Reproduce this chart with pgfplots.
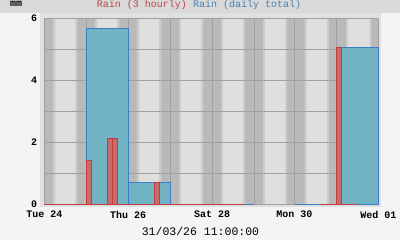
\documentclass[border=0pt]{standalone}
\usepackage{pgfplots}
\pgfplotsset{compat=1.18}
\usepackage{fontspec}
\setmainfont{Liberation Mono}
\definecolor{bgout}{HTML}{F4F4F4}
\definecolor{titleband}{HTML}{D9D9D9}
\definecolor{framebg}{HTML}{E0E0E0}
\definecolor{night}{HTML}{B9B9B9}
\definecolor{twi}{HTML}{CCCCCC}
\definecolor{day}{HTML}{DFDFDF}
\definecolor{gridgray}{HTML}{A0A0A0}
\definecolor{rfill}{HTML}{C96C6C}
\definecolor{rline}{HTML}{C33C3C}
\definecolor{bfill}{HTML}{72B2C5}
\definecolor{bline}{HTML}{3B7DC9}
\definecolor{tred}{HTML}{C04848}
\definecolor{tblue}{HTML}{4A82B4}
\pgfplotsset{
  band/.style={draw=none, fill=#1},
  gl/.style={draw=gridgray, line width=0.8bp},
}
\begin{document}
\begin{tikzpicture}
\fill[bgout] (0bp,0bp) rectangle (400bp,240bp);
\fill[titleband] (0bp,227.3bp) rectangle (400bp,240bp);
\fill[framebg] (40bp,32.7bp) rectangle (381bp,227.3bp);
\node[anchor=base west, inner sep=0pt, font=\fontsize{10bp}{12bp}\selectfont\bfseries] at (10bp,233bp) {mm};
\node[anchor=base, inner sep=0pt, font=\fontsize{10bp}{12bp}\selectfont] at (199bp,232bp) {\textcolor{tred}{Rain (3 hourly)} \textcolor{tblue}{Rain (daily total)}};
\node[anchor=base, inner sep=0pt, font=\fontsize{11.5bp}{13bp}\selectfont] at (200.5bp,5bp) {31/03/26 11:00:00};
\begin{axis}[
  scale only axis,
  clip=false,
  width=334bp, height=186bp,
  at={(44.3bp,35.7bp)}, anchor=south west,
  xmin=0, xmax=191, ymin=0, ymax=6,
  xtick={0,48,96,143,191},
  xticklabels={Tue 24,Thu 26,Sat 28,Mon 30,Wed 01},
  ytick={0,2,4,6},
  yticklabels={0,2,4,6},
  axis line style={draw=none},
  major tick length=0pt,
  tick style={draw=none},
  xticklabel style={anchor=north, inner sep=0pt, yshift=-6.7bp, font=\fontsize{10bp}{12bp}\selectfont\bfseries},
  yticklabel style={anchor=east, inner sep=0pt, xshift=-7bp, font=\fontsize{10bp}{12bp}\selectfont\bfseries},
]
% day/night background bands
\addplot[band=night] coordinates {(0,0) (0,6) (191,6) (191,0)} \closedcycle;
\addplot[band=twi] coordinates {(5.1,0) (5.1,6) (18.9,6) (18.9,0)} \closedcycle;
\addplot[band=day] coordinates {(6.3,0) (6.3,6) (17.7,6) (17.7,0)} \closedcycle;
\addplot[band=twi] coordinates {(29.1,0) (29.1,6) (42.9,6) (42.9,0)} \closedcycle;
\addplot[band=day] coordinates {(30.3,0) (30.3,6) (41.7,6) (41.7,0)} \closedcycle;
\addplot[band=twi] coordinates {(53.1,0) (53.1,6) (66.9,6) (66.9,0)} \closedcycle;
\addplot[band=day] coordinates {(54.3,0) (54.3,6) (65.7,6) (65.7,0)} \closedcycle;
\addplot[band=twi] coordinates {(77.1,0) (77.1,6) (90.9,6) (90.9,0)} \closedcycle;
\addplot[band=day] coordinates {(78.3,0) (78.3,6) (89.7,6) (89.7,0)} \closedcycle;
\addplot[band=twi] coordinates {(101.1,0) (101.1,6) (114.9,6) (114.9,0)} \closedcycle;
\addplot[band=day] coordinates {(102.3,0) (102.3,6) (113.7,6) (113.7,0)} \closedcycle;
\addplot[band=twi] coordinates {(125.1,0) (125.1,6) (138.8,6) (138.8,0)} \closedcycle;
\addplot[band=day] coordinates {(126.3,0) (126.3,6) (137.8,6) (137.8,0)} \closedcycle;
\addplot[band=twi] coordinates {(148.9,0) (148.9,6) (162.8,6) (162.8,0)} \closedcycle;
\addplot[band=day] coordinates {(150.0,0) (150.0,6) (161.8,6) (161.8,0)} \closedcycle;
\addplot[band=twi] coordinates {(172.6,0) (172.6,6) (187.0,6) (187.0,0)} \closedcycle;
\addplot[band=day] coordinates {(173.7,0) (173.7,6) (186.0,6) (186.0,0)} \closedcycle;
% grid and frame
\addplot[gl] coordinates {(24,0) (24,6)};
\addplot[gl] coordinates {(48,0) (48,6)};
\addplot[gl] coordinates {(72,0) (72,6)};
\addplot[gl] coordinates {(96,0) (96,6)};
\addplot[gl] coordinates {(120,0) (120,6)};
\addplot[gl] coordinates {(143,0) (143,6)};
\addplot[gl] coordinates {(167,0) (167,6)};
\addplot[gl] coordinates {(0,1) (191,1)};
\addplot[gl] coordinates {(0,2) (191,2)};
\addplot[gl] coordinates {(0,3) (191,3)};
\addplot[gl] coordinates {(0,4) (191,4)};
\addplot[gl] coordinates {(0,5) (191,5)};
\addplot[gl] coordinates {(0,0) (0,6) (191,6) (191,0)} -- cycle;
% Rain (daily total)
\addplot[ybar, bar width=24, bar shift=0pt, fill=bfill, draw=bline, line width=1bp]
  coordinates {(12,0) (36,5.66) (60,0.71) (84,0) (108,0)};
\addplot[ybar, bar width=24, bar shift=0pt, fill=bfill, draw=bline, line width=1bp]
  coordinates {(155,0) (179,5.06)};
% Rain (3 hourly)
\addplot[ybar, bar width=3, bar shift=0pt, fill=rfill, draw=rline, line width=1bp]
  coordinates {(1.5,0) (4.5,0) (7.5,0) (10.5,0) (13.5,0) (16.5,0) (19.5,0) (22.5,0)
  (25.5,1.42) (28.5,0) (31.5,0) (34.5,0) (37.5,2.12) (40.5,2.12) (43.5,0) (46.5,0)
  (49.5,0) (52.5,0) (55.5,0) (58.5,0) (61.5,0) (64.5,0.71) (67.5,0) (70.5,0)
  (73.5,0) (76.5,0) (79.5,0) (82.5,0) (85.5,0) (88.5,0) (91.5,0) (94.5,0)
  (97.5,0) (100.5,0) (103.5,0) (106.5,0) (109.5,0) (112.5,0)};
\addplot[ybar, bar width=3, bar shift=0pt, fill=rfill, draw=rline, line width=1bp]
  coordinates {(159.5,0) (162.5,0) (165.5,0) (168.5,5.06) (171.5,0) (174.5,0) (177.5,0)};
\end{axis}
\pgfresetboundingbox
\path[use as bounding box] (0bp,0bp) rectangle (400bp,240bp);
\end{tikzpicture}
\end{document}
